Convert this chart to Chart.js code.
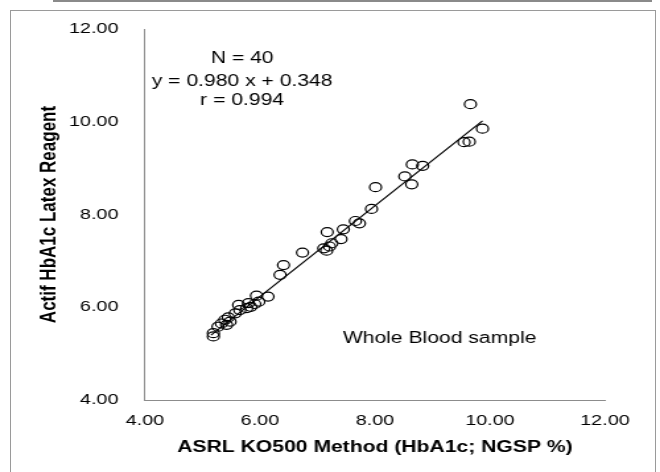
<!DOCTYPE html>
<html>
<head>
<meta charset="utf-8">
<script src="https://cdn.jsdelivr.net/npm/chart.js@4.4.1/dist/chart.umd.min.js"></script>
<style>
  html, body { margin: 0; padding: 0; background: #fff; overflow: hidden; }
  #topline { position: absolute; left: 53px; top: 0; width: 599px; height: 2px; background: #8a8a8a; }
  #frame { position: absolute; left: 10px; top: 10px; width: 644px; height: 480px; border: 1px solid #9a9a9a; }
  /* the source figure is stretched sideways, so the chart is drawn narrow and widened */
  #wrap { position: absolute; left: 0; top: 0; width: 500px; height: 472px; transform: scaleX(1.32); transform-origin: 0 0; }
</style>
</head>
<body>
<div id="topline"></div>
<div id="frame"></div>
<div id="wrap"><canvas id="scatter_hba1c"></canvas></div>
<script>
// ASRL KO500 (x) vs Actif latex reagent (y), whole blood, N = 40
const ko500 = [5.19, 5.19, 5.27, 5.33, 5.39, 5.42, 5.45, 5.48, 5.57, 5.63,
               5.65, 5.77, 5.80, 5.84, 5.91, 5.94, 5.98, 6.14, 6.35, 6.41,
               6.74, 7.11, 7.16, 7.17, 7.21, 7.25, 7.41, 7.45, 7.66, 7.73,
               7.94, 8.01, 8.52, 8.64, 8.65, 8.83, 9.55, 9.64, 9.66, 9.87];
const actif = [5.37, 5.44, 5.58, 5.65, 5.73, 5.62, 5.78, 5.69, 5.87, 6.05,
               5.94, 5.98, 6.09, 6.01, 6.07, 6.25, 6.12, 6.23, 6.70, 6.91,
               7.18, 7.27, 7.22, 7.62, 7.31, 7.38, 7.47, 7.68, 7.86, 7.81,
               8.12, 8.59, 8.82, 8.65, 9.08, 9.05, 9.56, 9.57, 10.38, 9.85];
// regression line ends
const trendX = [5.15, 9.87];
const trendY = [5.40, 10.02];
const tickValues = [4, 6, 8, 10, 12];
const notes = [
    { text: 'N = 40', x: 5.69, y: 11.37, align: 'center' },
    { text: 'y = 0.980 x + 0.348', x: 5.69, y: 10.86, align: 'center' },
    { text: 'r = 0.994', x: 5.69, y: 10.45, align: 'center' },
    { text: 'Whole Blood sample', x: 7.44, y: 5.32, align: 'left' },
];

const fontFamily = '"Liberation Sans", Arial, sans-serif';

const notesPlugin = {
    id: 'notes',
    afterDraw(chart) {
        const ctx = chart.ctx;
        const xs = chart.scales.x, ys = chart.scales.y;
        ctx.save();
        ctx.fillStyle = '#000';
        ctx.font = '16px ' + fontFamily;
        ctx.textBaseline = 'middle';
        notes.forEach(n => {
            ctx.textAlign = n.align;
            ctx.fillText(n.text, xs.getPixelForValue(n.x), ys.getPixelForValue(n.y));
        });
        ctx.restore();
    }
};

const setTicks = function(scale) {
    scale.ticks = tickValues.map(v => ({ value: v }));
};

const ctx_hb = document.getElementById('scatter_hba1c');
const hbChart = new Chart(ctx_hb, {
    type: 'scatter',
    data: {
        datasets: [{
            data: ko500.map((v, i) => ({ x: v, y: actif[i] })),
            pointStyle: 'circle',
            pointRadius: 4.5,
            pointHoverRadius: 4.5,
            backgroundColor: 'rgba(0,0,0,0)',
            borderColor: '#000',
            borderWidth: 1.2,
        }, {
            type: 'line',
            data: trendX.map((v, i) => ({ x: v, y: trendY[i] })),
            borderColor: '#000',
            borderWidth: 1.2,
            pointRadius: 0,
            fill: false,
        }],
    },
    options: {
        responsive: true,
        maintainAspectRatio: false,
        animation: false,
        layout: { padding: { left: 0, right: 41.7, top: 29, bottom: 0 } },
        scales: {
            x: {
                type: 'linear',
                min: 4, max: 12,
                afterBuildTicks: setTicks,
                afterFit: function(scale) { scale.height = 72; },
                grid: { display: false, drawTicks: false },
                border: { display: true, color: '#8c8c8c', width: 1 },
                ticks: {
                    padding: 12,
                    color: '#000',
                    font: { family: fontFamily, size: 15 },
                    callback: function(value) { return Number(value).toFixed(2); }
                },
                title: {
                    display: true,
                    text: 'ASRL KO500 Method (HbA1c; NGSP %)',
                    color: '#000',
                    font: { family: fontFamily, size: 16, weight: 'bold' },
                    padding: { top: 0, bottom: 15 }
                }
            },
            y: {
                type: 'linear',
                min: 4, max: 12,
                afterBuildTicks: setTicks,
                afterFit: function(scale) { scale.width = 109.8; },
                grid: { display: false, drawTicks: false },
                border: { display: true, color: '#8c8c8c', width: 1 },
                ticks: {
                    padding: 20,
                    color: '#000',
                    font: { family: fontFamily, size: 15 },
                    callback: function(value) { return Number(value).toFixed(2); }
                },
                title: {
                    display: true,
                    text: 'Actif HbA1c Latex Reagent',
                    color: '#000',
                    font: { family: fontFamily, size: 17, weight: 'bold' },
                    padding: { top: 26.8, bottom: 0 }
                }
            }
        },
        plugins: {
            legend: { display: false },
            title: { display: false },
            tooltip: { enabled: false },
        },
    },
    plugins: [notesPlugin],
});
</script>
</body>
</html>
